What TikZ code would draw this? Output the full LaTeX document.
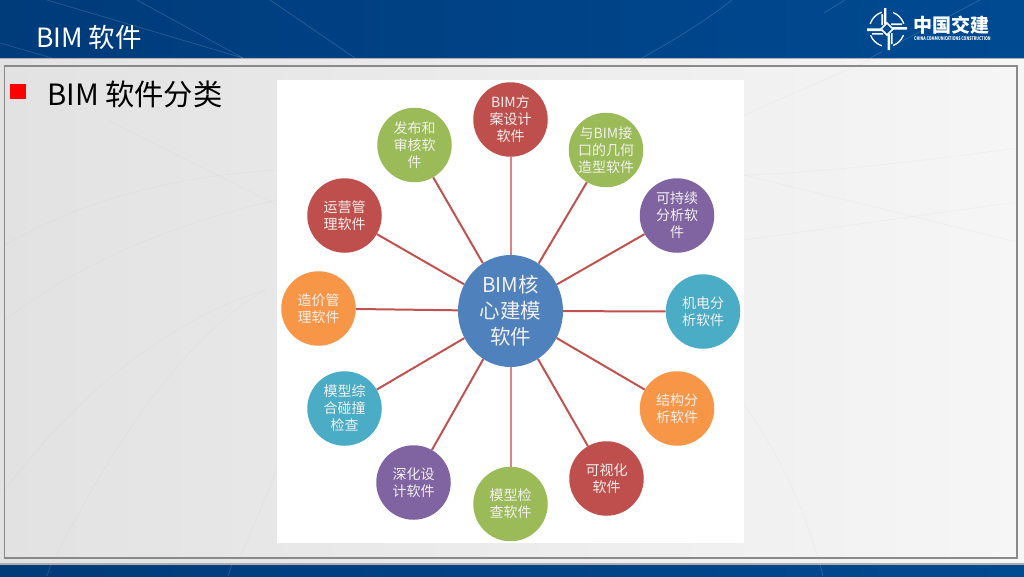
\documentclass[tikz,border=0pt]{standalone}
\usepackage{fontspec}
\usetikzlibrary{shapes.geometric}
\setmainfont{Noto Sans CJK SC}
\definecolor{hdrL}{HTML}{003B7A}
\definecolor{hdrR}{HTML}{004A92}
\definecolor{pgL}{HTML}{E2E2E2}
\definecolor{pgR}{HTML}{F6F6F6}
\definecolor{fr}{HTML}{8A8A8A}
\definecolor{cred}{HTML}{BE4F4D}
\definecolor{cgreen}{HTML}{9BBB59}
\definecolor{cpurple}{HTML}{8064A2}
\definecolor{cteal}{HTML}{4BACC6}
\definecolor{corange}{HTML}{F79646}
\definecolor{cblue}{HTML}{4F81BD}
\definecolor{ctext}{HTML}{F2F0EE}
\definecolor{link}{HTML}{C0524F}
\definecolor{linklight}{HTML}{D98583}
\definecolor{bgl}{HTML}{B0A890}
\tikzset{
  x=1pt,y=-1pt,
  sat/.style={circle,minimum size=74.5pt,inner sep=0pt,align=center,text=ctext,font=\fontsize{14}{17}\selectfont},
  hub/.style={ellipse,minimum width=105pt,minimum height=112pt,inner sep=0pt,align=center,fill=cblue,text=ctext,font=\fontsize{20.5}{26}\selectfont},
  spoke/.style={draw=link,line width=2pt},
  spokelight/.style={draw=linklight,line width=2pt},
  hline/.style={draw=white,opacity=.16,line width=.7pt},
  bline/.style={draw=bgl,opacity=.08,line width=.7pt},
}
\begin{document}
\begin{tikzpicture}
\useasboundingbox (0,0) rectangle (1024,576);
\shade[left color=pgL,right color=pgR] (0,0) rectangle (1024,576);
% faint background lines
\draw[bline] (744,175) .. controls (830,172) and (930,160) .. (1017,148);
\draw[bline] (744,175) -- (1017,242);
\draw[bline] (744,240) -- (1017,202);
\draw[bline] (744,115) -- (870,60);
\draw[bline] (744,405) .. controls (780,455) and (805,510) .. (820,565);
\draw[bline] (5,245) .. controls (90,195) and (190,175) .. (277,170);
\draw[bline] (5,320) .. controls (90,255) and (190,220) .. (277,200);
\draw[bline] (5,490) .. controls (80,390) and (170,320) .. (265,290);
\draw[bline] (55,558) .. controls (110,450) and (180,340) .. (265,290);
\draw[bline] (107,120) -- (277,205);
\draw[bline] (240,558) -- (277,470);
% header
\shade[left color=hdrL,right color=hdrR] (0,0) rectangle (1024,58);
\shade[left color=hdrL,right color=hdrR] (0,564) rectangle (1024,576);
\fill[fr!70!white] (0,58) rectangle (1024,59);
\fill[fr!70!white] (0,563) rectangle (1024,564.5);
\draw[hline] (47,0) -- (243,58);
\draw[hline] (137,0) -- (243,58);
\draw[hline] (270,0) -- (355,58);
\draw[hline] (0,43) -- (52,58);
\draw[hline] (732,0) .. controls (700,25) and (670,42) .. (642,58);
\draw[hline] (980,0) -- (870,58);
\draw[hline] (824,13) -- (845,0);
\draw[hline] (47,576) -- (51,564);
\draw[hline] (228,576) -- (232,564);
\draw[hline] (823,576) -- (820,564);
% frame
\draw[fr,line width=1.6pt] (4.5,65.7) rectangle (1017,558);
% title
\node[anchor=base west,inner sep=0pt,text=white,font=\fontsize{26.5}{30}\selectfont] (title) at (36,47) {BIM 软件};
\fill[red] (10,84) rectangle (26,99);
\node[anchor=base west,inner sep=0pt,text=black,font=\fontsize{29.3}{33}\selectfont] (sub) at (47,105) {BIM 软件分类};
% logo
\begin{scope}[shift={(887,29)}]
  \draw[white,line width=1.3pt] (0,0) circle[radius=17.5];
  \fill[hdrR] (-5.5,-24) rectangle (5.5,24);
  \fill[hdrR] (-24,-5.5) rectangle (24,5.5);
  \fill[white] (-3,-21) rectangle (-.6,-5) (.6,21) rectangle (3,5);
  \fill[white] (-20,-.6) rectangle (-5,2) (20,.6) rectangle (5,-2);
  \fill[white] (-5.6,-15) rectangle (-4,-4) (4,15) rectangle (5.6,4);
  \fill[white] (-15,4) rectangle (-4,5.6) (15,-4) rectangle (4,-5.6);
  \draw[white,line width=1.7pt] (0,-6) -- (6,0) -- (0,6) -- (-6,0) -- cycle;
\end{scope}
\node[anchor=west,inner sep=0pt,text=white,font=\bfseries\fontsize{19}{20}\selectfont] (logotext) at (913,25) {中国交建};
\node[anchor=west,inner sep=0pt,text=white,font=\bfseries\fontsize{5}{6}\selectfont] (logosub) at (914,39) {\scalebox{.72}[1]{CHINA COMMUNICATIONS CONSTRUCTION}};
% image
\fill[white] (277,80) rectangle (744,543);
% nodes
\node[hub] (h) at (510.5,311) {BIM核\\心建模\\软件};
\node[sat,fill=cred] (n1) at (510.5,119.5) {BIM方\\案设计\\软件};
\node[sat,fill=cgreen] (n2) at (606,150) {与BIM接\\口的几何\\造型软件};
\node[sat,fill=cpurple] (n3) at (677,215.5) {可持续\\分析软\\件};
\node[sat,fill=cteal] (n4) at (703,311.5) {机电分\\析软件};
\node[sat,fill=corange] (n5) at (677,408.5) {结构分\\析软件};
\node[sat,fill=cred] (n6) at (606.5,478.5) {可视化\\软件};
\node[sat,fill=cgreen] (n7) at (510.5,504) {模型检\\查软件};
\node[sat,fill=cpurple] (n8) at (413.5,482.5) {深化设\\计软件};
\node[sat,fill=cteal] (n9) at (344.5,408.5) {模型综\\合碰撞\\检查};
\node[sat,fill=corange] (n10) at (318.5,308.5) {造价管\\理软件};
\node[sat,fill=cred] (n11) at (344.5,215.5) {运营管\\理软件};
\node[sat,fill=cgreen] (n12) at (414.5,145) {发布和\\审核软\\件};
\foreach \i in {2,3,4,5,6,8,9,10,11,12} \draw[spoke] (h) -- (n\i);
\draw[spokelight] (h) -- (n1);
\draw[spokelight] (h) -- (n7);
\end{tikzpicture}
\end{document}
